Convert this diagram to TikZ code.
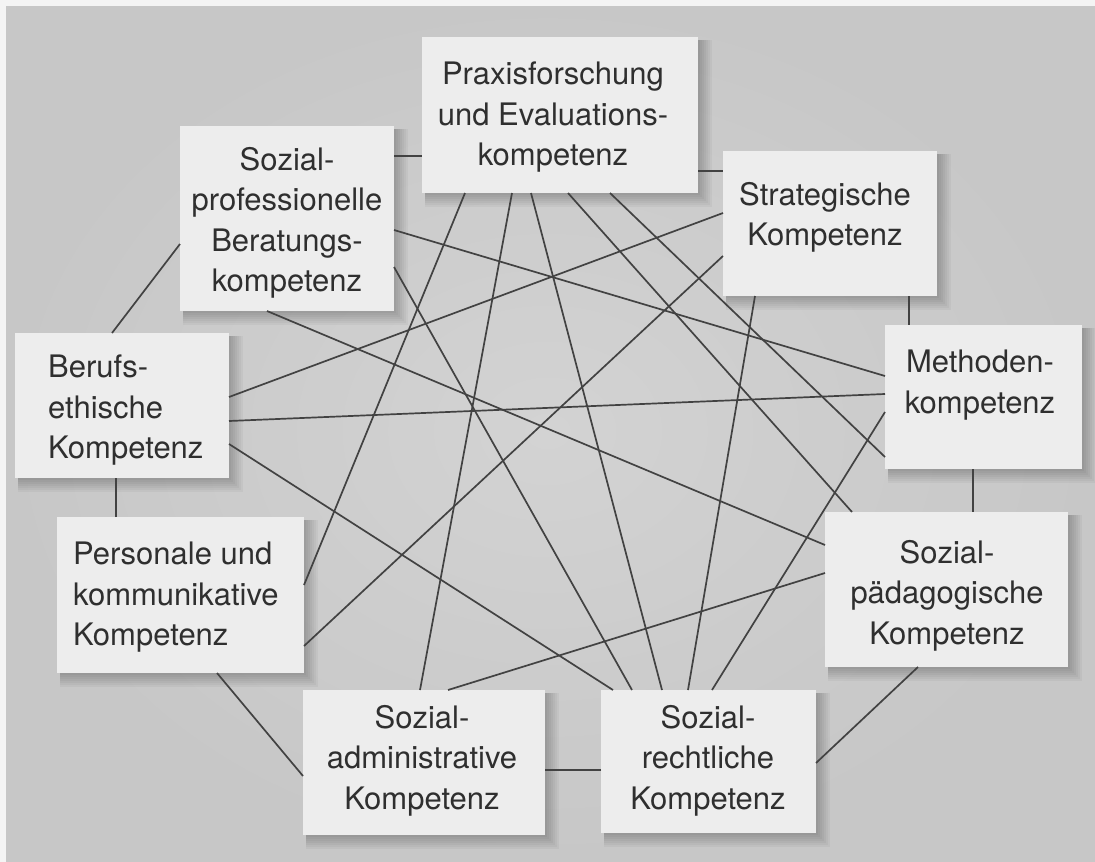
\documentclass[tikz,border=0pt]{standalone}
\usepackage{fontspec}
\setmainfont{TeX Gyre Heros}
\usetikzlibrary{calc,fit}
\pgfdeclarelayer{bg}
\pgfsetlayers{bg,main}
\definecolor{paper}{HTML}{C7C7C7}
\definecolor{paperlight}{HTML}{D3D3D3}
\definecolor{boxfill}{HTML}{EDEDED}
\definecolor{ink}{HTML}{2F2F2F}
\definecolor{wire}{HTML}{424242}
\definecolor{scanwhite}{HTML}{F4F4F4}
\begin{document}
\begin{tikzpicture}[x=1pt,y=-1pt,
  box/.style={rectangle, fill=boxfill, inner sep=0pt, outer sep=0pt},
  lbl/.style={inner sep=0pt, text=ink, font=\fontsize{31}{40.5}\selectfont, align=center, anchor=north},
  lbll/.style={lbl, align=left, anchor=north west},
  link/.style={draw=wire, line width=1.7pt}]
\useasboundingbox (0,0) rectangle (1095,862);

% boxes
\node[box, fit={(422,37) (698,193)}] (praxis) {};
\node[box, fit={(180,126) (394,311)}] (berat) {};
\node[box, fit={(723,151) (937,296)}] (strat) {};
\node[box, fit={(15,333) (229,478)}] (beruf) {};
\node[box, fit={(885,325) (1082,469)}] (meth) {};
\node[box, fit={(57,517) (304,673)}] (pers) {};
\node[box, fit={(825,512) (1068,667)}] (spaed) {};
\node[box, fit={(303,690) (545,835)}] (sadm) {};
\node[box, fit={(601,690) (816,833)}] (srecht) {};

% background, scan margins and shadows
\begin{pgfonlayer}{bg}
  \shade[inner color=paperlight, outer color=paper] (0,0) rectangle (1095,862);
  \fill[scanwhite] (0,0) rectangle (1095,6);
  \fill[scanwhite] (0,0) rectangle (6,862);
  \foreach \n in {praxis,berat,strat,beruf,meth,pers,spaed,sadm,srecht}{
    \foreach \i in {1,...,7}{
      \fill[black, opacity=0.035] ($(\n.north west)+(3,3)$) rectangle ($(\n.south east)+(2*\i,2*\i)$);
    }
  }
\end{pgfonlayer}

% texts
\node[lbl] (praxisT) at (553,62) {Praxisforschung\\und Evaluations-\\kompetenz};
\node[lbl] (beratT) at (287,147) {Sozial-\\professionelle\\Beratungs-\\kompetenz};
\node[lbl] (stratT) at (825,182) {Strategische\\Kompetenz};
\node[lbll] (berufT) at (48,355) {Berufs-\\ethische\\Kompetenz};
\node[lbl] (methT) at (980,350) {Methoden-\\kompetenz};
\node[lbll] (persT) at (73,542) {Personale und\\kommunikative\\Kompetenz};
\node[lbl] (spaedT) at (947,540) {Sozial-\\pädagogische\\Kompetenz};
\node[lbl] (sadmT) at (422,705) {Sozial-\\administrative\\Kompetenz};
\node[lbl] (srechtT) at (708,705) {Sozial-\\rechtliche\\Kompetenz};

% outer ring
\draw[link] ($(berat.north east)+(0,30)$) -- ($(praxis.north west)+(0,119)$);
\draw[link] ($(praxis.north east)+(0,134)$) -- ($(strat.north west)+(0,20)$);
\draw[link] ($(strat.south west)+(186,0)$) -- ($(meth.north west)+(24,0)$);
\draw[link] ($(meth.south west)+(88,0)$) -- ($(spaed.north west)+(148,0)$);
\draw[link] ($(spaed.south west)+(93,0)$) -- ($(srecht.north east)+(0,73)$);
\draw[link] ($(srecht.north west)+(0,80)$) -- ($(sadm.north east)+(0,80)$);
\draw[link] ($(sadm.north west)+(0,86)$) -- ($(pers.south west)+(160,0)$);
\draw[link] ($(pers.north west)+(59,0)$) -- ($(beruf.south west)+(101,0)$);
\draw[link] ($(beruf.north west)+(97,0)$) -- ($(berat.north west)+(0,118)$);

% chords
\draw[link] ($(praxis.south west)+(43,0)$) -- ($(pers.north east)+(0,68)$);
\draw[link] ($(praxis.south west)+(90,0)$) -- ($(sadm.north west)+(117,0)$);
\draw[link] ($(praxis.south west)+(109,0)$) -- ($(srecht.north west)+(61,0)$);
\draw[link] ($(praxis.south west)+(146,0)$) -- ($(spaed.north west)+(27,0)$);
\draw[link] ($(praxis.south west)+(188,0)$) -- ($(meth.north west)+(0,132)$);
\draw[link] ($(berat.north east)+(0,104)$) -- ($(meth.north west)+(0,51)$);
\draw[link] ($(berat.north east)+(0,141)$) -- ($(srecht.north west)+(31,0)$);
\draw[link] ($(berat.south west)+(87,0)$) -- ($(spaed.north west)+(0,33)$);
\draw[link] ($(strat.north west)+(0,62)$) -- ($(beruf.north east)+(0,64)$);
\draw[link] ($(strat.north west)+(0,105)$) -- ($(pers.north east)+(0,129)$);
\draw[link] ($(strat.south west)+(32,0)$) -- ($(srecht.north west)+(87,0)$);
\draw[link] ($(beruf.north east)+(0,88)$) -- ($(meth.north west)+(0,69)$);
\draw[link] ($(beruf.north east)+(0,111)$) -- ($(srecht.north west)+(12,0)$);
\draw[link] ($(meth.north west)+(0,87)$) -- ($(srecht.north west)+(111,0)$);
\draw[link] ($(sadm.north west)+(145,0)$) -- ($(spaed.north west)+(0,61)$);
\end{tikzpicture}
\end{document}
